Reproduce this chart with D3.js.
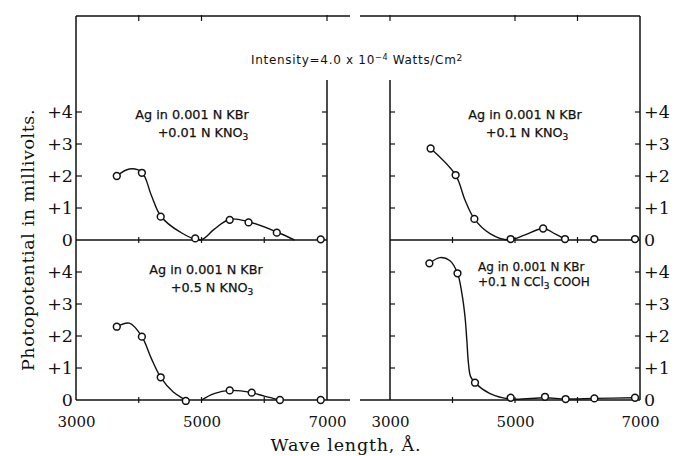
<!DOCTYPE html>
<html><head><meta charset="utf-8">
<script src="https://cdn.jsdelivr.net/npm/d3@7"></script>
<style>
body{margin:0;background:#fff}
.serif{font-family:"DejaVu Serif","Liberation Serif",serif;fill:#111}
.sans{font-family:"DejaVu Sans","Noto Sans",sans-serif;fill:#111}
</style>
</head><body>
<svg id="chart" width="681" height="456"></svg>
<script>
// Photopotential (mV) of Ag in 0.001 N KBr with various additives, vs wave length (Å)

// 0.001 N KBr + 0.01 N KNO3 (upper left)
const waveA = [3650, 4050, 4350, 4900, 5450, 5750, 6200, 6900];
const valsA = [2.0, 2.1, 0.73, 0.05, 0.63, 0.55, 0.23, 0.02];
const curveA = [[[3650,2.0],[3850,2.22],[4050,2.12],[4200,1.4],[4350,0.75],[4650,0.26],[4980,0.0],[5200,0.33],[5450,0.65],[5750,0.57],[6200,0.25],[6480,0.0]]];

// 0.001 N KBr + 0.1 N KNO3 (upper right)
const waveB = [3650, 4050, 4350, 4930, 5450, 5800, 6270, 6920];
const valsB = [2.86, 2.03, 0.66, 0.03, 0.36, 0.03, 0.03, 0.03];
const curveB = [[[3650,2.86],[4050,2.03],[4200,1.25],[4350,0.66],[4600,0.2],[4900,0.0],[5150,0.15],[5450,0.36],[5650,0.18],[5800,0.02]]];

// 0.001 N KBr + 0.5 N KNO3 (lower left)
const waveC = [3650, 4050, 4350, 4750, 5450, 5800, 6250, 6900];
const valsC = [2.29, 1.98, 0.71, -0.03, 0.3, 0.23, 0.0, 0.0];
const curveC = [
  [[3650,2.29],[3850,2.4],[4050,1.98],[4200,1.3],[4350,0.71],[4550,0.25],[4750,0.0]],
  [[5000,0.0],[5200,0.2],[5450,0.3],[5800,0.23],[6000,0.12],[6250,0.0]]
];

// 0.001 N KBr + 0.1 N CCl3COOH (lower right)
const waveD = [3630, 4080, 4360, 4930, 5480, 5810, 6270, 6920];
const valsD = [4.27, 3.96, 0.54, 0.07, 0.1, 0.03, 0.05, 0.07];
const curveD = [[[3630,4.27],[3800,4.45],[3960,4.35],[4080,3.96],[4150,3.33],[4200,2.6],[4230,1.85],[4255,1.15],[4290,0.73],[4360,0.54],[4600,0.2],[4930,0.03],[5480,0.07],[5810,0.03],[6270,0.05],[6920,0.07]]];

const yTicks = [1, 2, 3, 4];
const yLabels = [0, 1, 2, 3, 4];
const xLabels = [3000, 5000, 7000];
const xMinor = [4000, 5000, 6000];

const svg = d3.select("#chart");
const xL = d3.scaleLinear().domain([3000, 7000]).range([76, 327]);
const xR = d3.scaleLinear().domain([3000, 7000]).range([390, 640]);
const yUp = d3.scaleLinear().domain([0, 7]).range([240, 16]);
const yLo = d3.scaleLinear().domain([0, 5]).range([400, 240]);

const frame = svg.append("g").attr("stroke", "#111").attr("stroke-width", 1.5).attr("fill", "none");
const hline = (x1, x2, y) => frame.append("line").attr("x1", x1).attr("x2", x2).attr("y1", y).attr("y2", y);
const vline = (x, y1, y2) => frame.append("line").attr("x1", x).attr("x2", x).attr("y1", y1).attr("y2", y2);

// outer box, split in the middle
hline(xL(3000), xL(7000) + 23, yUp(7));
hline(xR(3000) - 30, xR(7000), yUp(7));
hline(xL(3000), xL(7000) + 23, yLo(0));
hline(xR(3000) - 30, xR(7000), yLo(0));
vline(xL(3000), yUp(7), yLo(0));
vline(xR(7000), yUp(7), yLo(0));
// inner axes
vline(xL(7000), yUp(5), yLo(0));
vline(xR(3000), yUp(5), yLo(0));
// zero lines of the upper panels
hline(xL(3000), xL(7000), yUp(0));
hline(xR(3000), xR(7000), yUp(0));

// y ticks on all four vertical axes
[yUp, yLo].forEach(y => {
  yTicks.forEach(v => {
    frame.append("line").attr("x1", xL(3000)).attr("x2", xL(3000) + 6).attr("y1", y(v)).attr("y2", y(v)).attr("stroke-width", 1.2);
    frame.append("line").attr("x1", xL(7000) - 5).attr("x2", xL(7000)).attr("y1", y(v)).attr("y2", y(v)).attr("stroke-width", 1.2);
    frame.append("line").attr("x1", xR(3000)).attr("x2", xR(3000) + 5).attr("y1", y(v)).attr("y2", y(v)).attr("stroke-width", 1.2);
    frame.append("line").attr("x1", xR(7000) - 5).attr("x2", xR(7000)).attr("y1", y(v)).attr("y2", y(v)).attr("stroke-width", 1.2);
  });
});
// x ticks on zero lines
[[xL, yUp], [xR, yUp], [xL, yLo], [xR, yLo]].forEach(([x, y]) => {
  xMinor.forEach(w => {
    frame.append("line").attr("x1", x(w)).attr("x2", x(w)).attr("y1", y(0) - 3).attr("y2", y(0) + 3).attr("stroke-width", 1.2);
  });
});
// ticks hanging from the top border
[[xL, 4000], [xL, 5000], [xL, 7000], [xR, 3000], [xR, 5000], [xR, 6000]].forEach(([x, w]) => {
  frame.append("line").attr("x1", x(w)).attr("x2", x(w)).attr("y1", yUp(7) - 1).attr("y2", yUp(7) + 5).attr("stroke-width", 1.2);
});

// y tick labels
const fmtY = d => d === 0 ? "0" : "+" + d;
[yUp, yLo].forEach(y => {
  const left = svg.append("g").attr("transform", `translate(${xL(3000)},0)`)
    .call(d3.axisLeft(y).tickValues(yLabels).tickFormat(fmtY).tickSize(0).tickPadding(3));
  const right = svg.append("g").attr("transform", `translate(${xR(7000)},0)`)
    .call(d3.axisRight(y).tickValues(yLabels).tickFormat(fmtY).tickSize(0).tickPadding(4));
  [left, right].forEach(g => {
    g.select(".domain").remove();
    g.selectAll("text").attr("class", "serif").attr("font-size", 17.5).attr("fill", "#111");
  });
});

// x tick labels
[xL, xR].forEach(x => {
  const g = svg.append("g").attr("transform", `translate(0,${yLo(0)})`)
    .call(d3.axisBottom(x).tickValues(xLabels).tickFormat(d3.format("d")).tickSize(0).tickPadding(16));
  g.select(".domain").remove();
  g.selectAll("text").attr("class", "serif").attr("font-size", 15).attr("fill", "#111");
});

// axis titles
svg.append("text").attr("class", "serif").attr("font-size", 17.5).attr("letter-spacing", 0.6)
  .attr("transform", "translate(34,240) rotate(-90)").attr("text-anchor", "middle")
  .text("Photopotential in millivolts.");
svg.append("text").attr("class", "serif").attr("font-size", 17.5).attr("letter-spacing", 0.8)
  .attr("x", 346).attr("y", 451).attr("text-anchor", "middle")
  .text("Wave length, Å.");

// intensity note
const note = svg.append("text").attr("class", "sans").attr("font-size", 12).attr("letter-spacing", 0.7)
  .attr("x", 357).attr("y", 64).attr("text-anchor", "middle");
note.append("tspan").text("Intensity=4.0 x 10");
note.append("tspan").attr("dy", -4).attr("font-size", 8).text("−4");
note.append("tspan").attr("dy", 4).text(" Watts/Cm");
note.append("tspan").attr("dy", -3).attr("font-size", 9).text("2");

// panels
const panels = [
  {x: xL, y: yUp, wave: waveA, vals: valsA, curve: curveA, size: 12.8,
   lines: [{x: 192, y: 122, parts: [["Ag in 0.001 N KBr"]]}, {x: 203, y: 140, parts: [["+0.01 N KNO"], ["3", "sub"]]}], anchor: "middle"},
  {x: xR, y: yUp, wave: waveB, vals: valsB, curve: curveB, size: 12.8,
   lines: [{x: 525, y: 122, parts: [["Ag in 0.001 N KBr"]]}, {x: 527, y: 140, parts: [["+0.1 N KNO"], ["3", "sub"]]}], anchor: "middle"},
  {x: xL, y: yLo, wave: waveC, vals: valsC, curve: curveC, size: 12.8,
   lines: [{x: 206, y: 277, parts: [["Ag in 0.001 N KBr"]]}, {x: 212, y: 295, parts: [["+0.5 N KNO"], ["3", "sub"]]}], anchor: "middle"},
  {x: xR, y: yLo, wave: waveD, vals: valsD, curve: curveD, size: 12,
   lines: [{x: 478, y: 274, parts: [["Ag in 0.001 N KBr"]]}, {x: 478, y: 289, parts: [["+0.1 N CCl"], ["3", "sub"], [" COOH"]]}], anchor: "start"}
];

panels.forEach(p => {
  const line = d3.line().x(d => p.x(d[0])).y(d => p.y(d[1])).curve(d3.curveCatmullRom.alpha(0.5));
  p.curve.forEach(seg => {
    svg.append("path").attr("d", line(seg)).attr("fill", "none").attr("stroke", "#111").attr("stroke-width", 1.4);
  });
  svg.append("g").selectAll("circle").data(p.wave.map((w, i) => [w, p.vals[i]])).join("circle")
    .attr("cx", d => p.x(d[0])).attr("cy", d => p.y(d[1])).attr("r", 3.4)
    .attr("fill", "#fff").attr("stroke", "#111").attr("stroke-width", 1.5);
  p.lines.forEach(l => {
    const t = svg.append("text").attr("class", "sans").attr("font-size", p.size)
      .attr("x", l.x).attr("y", l.y).attr("text-anchor", p.anchor)
      .attr("stroke", "#111").attr("stroke-width", 0.25);
    l.parts.forEach(([s, kind]) => {
      if (kind === "sub") t.append("tspan").attr("dy", 3).attr("font-size", 9).text(s);
      else t.append("tspan").attr("dy", t.selectAll("tspan").size() ? -3 : 0).text(s);
    });
  });
});
</script>
</body></html>
